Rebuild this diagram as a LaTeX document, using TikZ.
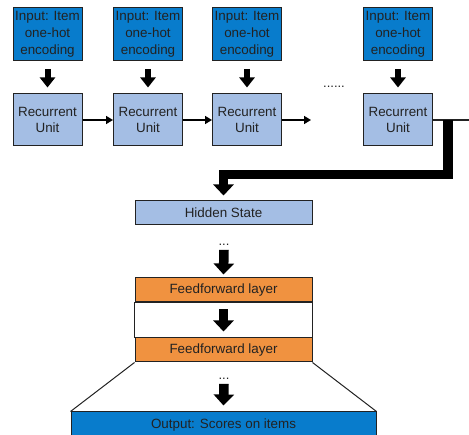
\documentclass[tikz,border=0pt]{standalone}
\usepackage{fontspec}
\setmainfont{Liberation Sans}
\usetikzlibrary{arrows.meta}
\definecolor{inblue}{RGB}{8,124,204}
\definecolor{lightblue}{RGB}{164,190,228}
\definecolor{ffor}{RGB}{240,146,64}
\definecolor{edge}{RGB}{34,34,34}
\begin{document}
\begin{tikzpicture}[x=1pt,y=-1pt,
  txt/.style={font=\fontsize{13.4}{16.8}\selectfont, text=edge, align=center, inner sep=0pt},
  inbox/.style={txt, draw=edge, line width=1pt, fill=inblue, minimum width=69pt, minimum height=53pt},
  rubox/.style={txt, draw=edge, line width=1pt, fill=lightblue, minimum width=69pt, minimum height=52pt},
  widebox/.style={txt, draw=edge, line width=1pt, minimum width=177pt, minimum height=24pt},
  smallblock/.style={line width=6pt, -{Triangle[length=10pt,width=15pt]}},
  bigblock/.style={line width=9.5pt, -{Triangle[length=11pt,width=20pt]}},
  thinarrow/.style={line width=1.6pt, -{Triangle[length=7pt,width=8pt]}},
  dots/.style={txt, font=\fontsize{13}{13}\selectfont}
]
\useasboundingbox (0,0) rectangle (469,435);

% inputs
\node[inbox] (in1) at (47.5,34) {Input: Item\\one-hot\\encoding};
\node[inbox] (in2) at (148,34) {Input: Item\\one-hot\\encoding};
\node[inbox] (in3) at (247,34) {Input: Item\\one-hot\\encoding};
\node[inbox] (in4) at (398,34) {Input: Item\\one-hot\\encoding};

% recurrent units
\node[rubox] (ru1) at (47.5,120) {Recurrent\\Unit};
\node[rubox] (ru2) at (148,120) {Recurrent\\Unit};
\node[rubox] (ru3) at (247,120) {Recurrent\\Unit};
\node[rubox] (ru4) at (398,120) {Recurrent\\Unit};

\foreach \i in {1,2,3,4}{
  \draw[smallblock] ([yshift=-8pt]in\i.south) -- ([yshift=6pt]ru\i.north);
}

\coordinate (ru3out) at (311,120);
\draw[thinarrow] (ru1.east) -- (ru2.west);
\draw[thinarrow] (ru2.east) -- (ru3.west);
\draw[thinarrow] (ru3.east) -- (ru3out);
\node[dots] (ell) at (334,87) {......};

% output of last unit
\coordinate (edgeR) at (469,120);
\coordinate (bendtop) at (448,120);
\draw[line width=1.2pt, edge] (ru4.east) -- (edgeR);

% hidden state
\node[widebox, fill=lightblue] (hs) at (223.5,213) {Hidden State};
\draw[bigblock, line join=miter] (bendtop) -- (448,174.5) -| ([yshift=5pt]hs.north);

% feedforward stack
\node[widebox, fill=ffor] (ff1) at (223.5,290) {Feedforward layer};
\node[widebox, fill=ffor] (ff2) at (223.5,350) {Feedforward layer};
\draw[line width=1pt, edge, fill=white] (ff1.south west) rectangle (ff2.north east);
\node[widebox, fill=ffor] at (223.5,290) {Feedforward layer};
\node[widebox, fill=ffor] at (223.5,350) {Feedforward layer};

\node[dots] (d1) at (224,245) {...};
\draw[bigblock] ([yshift=-4pt]d1.south) -- ([yshift=3pt]ff1.north);
\draw[bigblock] ([yshift=-7pt]ff1.south) -- ([yshift=6pt]ff2.north);

% output
\node[txt, draw=edge, line width=1pt, fill=inblue, minimum width=305pt, minimum height=28pt] (out) at (223.5,426) {};
\node[txt] (outlbl) at (223.5,425) {Output: Scores on items};
\draw[line width=1pt, edge] (ff2.south west) -- (out.north west);
\draw[line width=1pt, edge] (ff2.south east) -- (out.north east);

\node[dots] (d2) at (224,379) {...};
\draw[bigblock] ([yshift=-4pt]d2.south) -- ([yshift=6pt]out.north);
\end{tikzpicture}
\end{document}
